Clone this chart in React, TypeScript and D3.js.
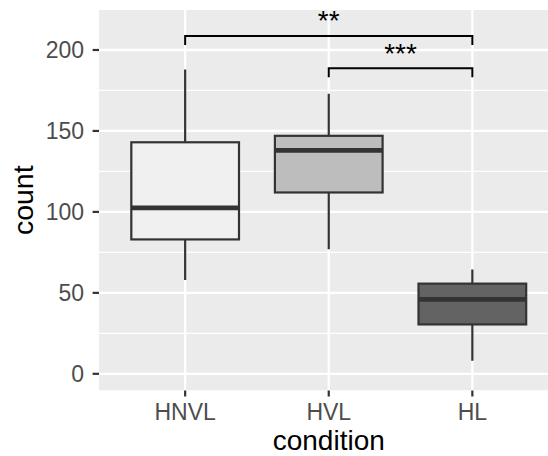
import React from "react";
import * as d3 from "d3";

// values
const conditions = ["HNVL", "HVL", "HL"];
const whiskerLow = [58, 77, 8];
const q1 = [83, 112, 30.5];
const medians = [102.5, 138, 46];
const q3 = [143, 147, 55.7];
const whiskerHigh = [188, 173, 64.5];
const fills = ["#F0F0F0", "#BDBDBD", "#636363"];

const yTicks = [0, 50, 100, 150, 200];
const yMinor = [25, 75, 125, 175];

const bracketFrom = ["HNVL", "HVL"];
const bracketTo = ["HL", "HL"];
const bracketY = [208.7, 188.7];
const bracketLabels = ["**", "***"];

const W = 548;
const H = 456;
const FONT = "'Liberation Sans', Arial, Helvetica, sans-serif";

export default function App() {
  const panel = { left: 99, top: 10, right: 558.5, bottom: 390.5 };

  const x = d3
    .scalePoint<string>()
    .domain(conditions)
    .range([panel.left, panel.right])
    .padding(0.6);
  const step = x.step();
  const boxW = step * 0.75;

  const y = d3.scaleLinear().domain([-10.3, 224.7]).range([panel.bottom, panel.top]);

  const boxStroke = "#333333";

  return (
    <svg
      width={W}
      height={H}
      style={{ position: "fixed", left: 0, top: 0, background: "#fff" }}
    >
      <defs>
        <clipPath id="panel">
          <rect x={panel.left} y={panel.top} width={panel.right - panel.left} height={panel.bottom - panel.top} />
        </clipPath>
      </defs>
      <g clipPath="url(#panel)">
        <rect x={panel.left} y={panel.top} width={panel.right - panel.left} height={panel.bottom - panel.top} fill="#EBEBEB" />
        {yMinor.map(v => (
          <line key={"mi" + v} x1={panel.left} x2={panel.right} y1={y(v)} y2={y(v)} stroke="#fff" strokeWidth={1.2} />
        ))}
        {yTicks.map(v => (
          <line key={"ma" + v} x1={panel.left} x2={panel.right} y1={y(v)} y2={y(v)} stroke="#fff" strokeWidth={2.3} />
        ))}
        {conditions.map(c => (
          <line key={"vx" + c} x1={x(c)} x2={x(c)} y1={panel.top} y2={panel.bottom} stroke="#fff" strokeWidth={2.3} />
        ))}

        {conditions.map((c, i) => {
          const cx = x(c) as number;
          return (
            <g key={"box" + c}>
              <line x1={cx} x2={cx} y1={y(q3[i])} y2={y(whiskerHigh[i])} stroke={boxStroke} strokeWidth={2.2} />
              <line x1={cx} x2={cx} y1={y(q1[i])} y2={y(whiskerLow[i])} stroke={boxStroke} strokeWidth={2.2} />
              <rect
                x={cx - boxW / 2}
                y={y(q3[i])}
                width={boxW}
                height={y(q1[i]) - y(q3[i])}
                fill={fills[i]}
                stroke={boxStroke}
                strokeWidth={2.2}
              />
              <line x1={cx - boxW / 2} x2={cx + boxW / 2} y1={y(medians[i])} y2={y(medians[i])} stroke={boxStroke} strokeWidth={4.6} />
            </g>
          );
        })}

        {bracketLabels.map((lab, i) => {
          const x1 = x(bracketFrom[i]) as number;
          const x2 = x(bracketTo[i]) as number;
          const yb = y(bracketY[i]);
          const tip = y(bracketY[i] - 5.6);
          return (
            <g key={"br" + i}>
              <path
                d={`M${x1},${tip}L${x1},${yb}L${x2},${yb}L${x2},${tip}`}
                fill="none"
                stroke="#000"
                strokeWidth={2}
              />
              <text
                x={(x1 + x2) / 2}
                y={yb - 5.5}
                textAnchor="middle"
                fontFamily={FONT}
                fontSize={28}
                fill="#000"
              >
                {lab}
              </text>
            </g>
          );
        })}
      </g>

      {/* y axis */}
      {yTicks.map(v => (
        <g key={"yt" + v}>
          <line x1={92.6} x2={panel.left} y1={y(v)} y2={y(v)} stroke="#333333" strokeWidth={2.2} />
          <text x={84} y={y(v) + 8.3} textAnchor="end" fontFamily={FONT} fontSize={23} fill="#4D4D4D">
            {v}
          </text>
        </g>
      ))}

      {/* x axis */}
      {conditions.map(c => (
        <g key={"xt" + c}>
          <line x1={x(c)} x2={x(c)} y1={panel.bottom} y2={panel.bottom + 6} stroke="#333333" strokeWidth={2.2} />
          <text x={x(c)} y={420} textAnchor="middle" fontFamily={FONT} fontSize={23} fill="#4D4D4D">
            {c}
          </text>
        </g>
      ))}

      <text
        x={(panel.left + panel.right) / 2}
        y={450}
        textAnchor="middle"
        fontFamily={FONT}
        fontSize={28}
        fill="#000"
      >
        condition
      </text>
      <text
        transform={`translate(33.3,${(panel.top + panel.bottom) / 2}) rotate(-90)`}
        textAnchor="middle"
        fontFamily={FONT}
        fontSize={28.5}
        fill="#000"
      >
        count
      </text>
    </svg>
  );
}
